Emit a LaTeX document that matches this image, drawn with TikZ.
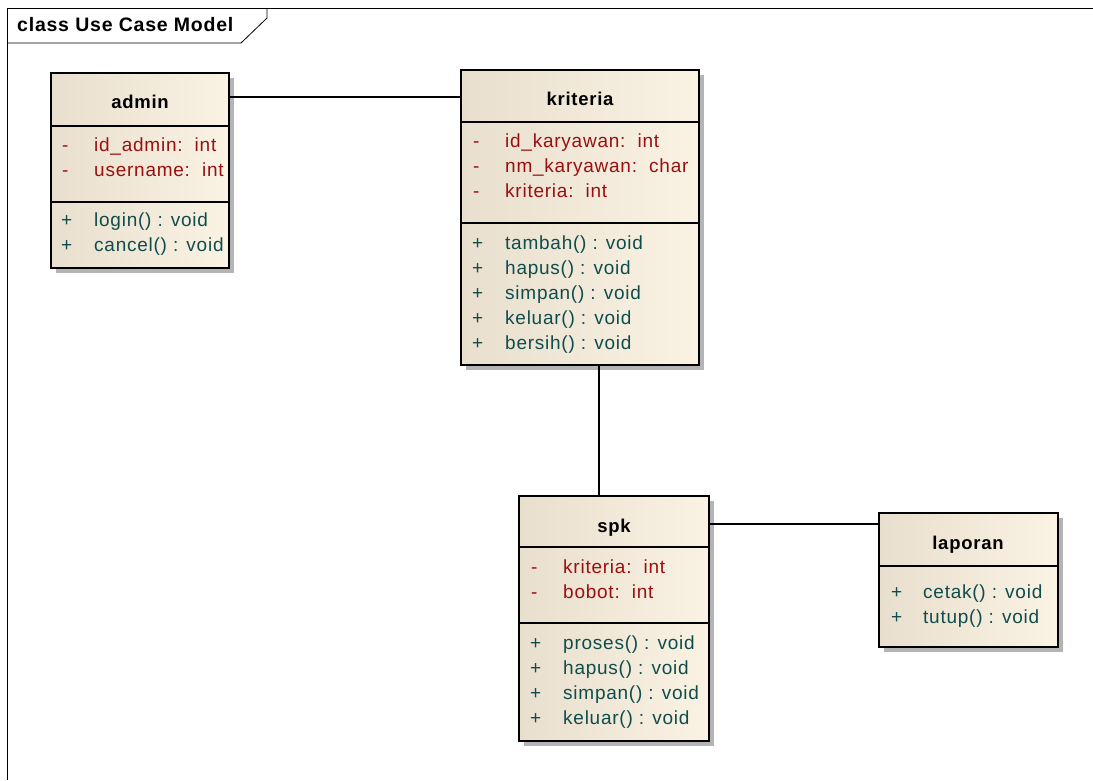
\documentclass[tikz,border=0pt]{standalone}
\usepackage{fontspec}
\newfontfamily\eafont[LetterSpace=4]{Liberation Sans}
\usetikzlibrary{backgrounds}
\definecolor{clsleft}{HTML}{E8DFCE}
\definecolor{clsright}{HTML}{FAF2E3}
\definecolor{shadowgray}{HTML}{B4B4B4}
\definecolor{attrred}{HTML}{9A1010}
\definecolor{operteal}{HTML}{0F4D4D}

\begin{document}
\begin{tikzpicture}[
  x=1pt, y=-1pt,
  every node/.style={font=\eafont\fontsize{19}{22}\selectfont, inner sep=0pt},
  cls/.style={rectangle, draw=black, line width=1.5pt, left color=clsleft, right color=clsright, anchor=north west, outer sep=0pt},
  boxshadow/.style={fill=shadowgray},
  ctitle/.style={anchor=base, font=\eafont\bfseries\fontsize{18.5}{22}\selectfont},
  sgn/.style={anchor=base west},
  attr/.style={anchor=base west, text=attrred},
  oper/.style={anchor=base west, text=operteal},
  sep/.style={line width=1.2pt},
  assoc/.style={line width=1.2pt},
  frame/.style={line width=0.8pt},
]
\useasboundingbox (0,0) rectangle (1093,780);

% frame
\draw[frame] (1093,8) -- (7,8) -- (7,780);
\draw[frame] (7,43) -- (241,43) -- (267,18) -- (267,8);
\node[anchor=base west, font=\eafont\bfseries\fontsize{19.5}{22}\selectfont] (frame-t) at (17,31) {class Use Case Model};

% classes
\node[cls, minimum width=178pt, minimum height=195pt] (admin) at (51,73) {};
\node[cls, minimum width=238pt, minimum height=295pt] (kriteria) at (461,70) {};
\node[cls, minimum width=190pt, minimum height=245pt] (spk) at (519,496) {};
\node[cls, minimum width=179pt, minimum height=134pt] (laporan) at (879,513) {};

\begin{scope}[on background layer]
\foreach \c in {admin,kriteria,spk,laporan}
  \fill[boxshadow] ([shift={(5pt,-5pt)}]\c.north west) rectangle ([shift={(5pt,-5pt)}]\c.south east);
\end{scope}

% compartments
\draw[sep] ([yshift=-53pt]admin.north west) -- ([yshift=-53pt]admin.north east);
\draw[sep] ([yshift=-129pt]admin.north west) -- ([yshift=-129pt]admin.north east);
\draw[sep] ([yshift=-52pt]kriteria.north west) -- ([yshift=-52pt]kriteria.north east);
\draw[sep] ([yshift=-153pt]kriteria.north west) -- ([yshift=-153pt]kriteria.north east);
\draw[sep] ([yshift=-51pt]spk.north west) -- ([yshift=-51pt]spk.north east);
\draw[sep] ([yshift=-127pt]spk.north west) -- ([yshift=-127pt]spk.north east);
\draw[sep] ([yshift=-53pt]laporan.north west) -- ([yshift=-53pt]laporan.north east);

% titles
\node[ctitle] (admin-t) at (140,108) {admin};
\node[ctitle] (kriteria-t) at (580,105) {kriteria};
\node[ctitle] (spk-t) at (614,532) {spk};
\node[ctitle] (laporan-t) at (968,549) {laporan};

% admin
\foreach \txt [count=\i from 0] in {{id\_admin:~~int},{username:~~int}} {
  \node[sgn, text=attrred] (admin-as\i) at (62,151+25*\i) {-};
  \node[attr] (admin-a\i) at (94,151+25*\i) {\txt};
}
\foreach \txt [count=\i from 0] in {{login() : void},{cancel() : void}} {
  \node[sgn, text=operteal] (admin-os\i) at (61,226+25*\i) {+};
  \node[oper] (admin-o\i) at (94,226+25*\i) {\txt};
}

% kriteria
\foreach \txt [count=\i from 0] in {{id\_karyawan:~~int},{nm\_karyawan:~~char},{kriteria:~~int}} {
  \node[sgn, text=attrred] (kriteria-as\i) at (473,147+25*\i) {-};
  \node[attr] (kriteria-a\i) at (505,147+25*\i) {\txt};
}
\foreach \txt [count=\i from 0] in {{tambah() : void},{hapus() : void},{simpan() : void},{keluar() : void},{bersih() : void}} {
  \node[sgn, text=operteal] (kriteria-os\i) at (472,249+25*\i) {+};
  \node[oper] (kriteria-o\i) at (505,249+25*\i) {\txt};
}

% spk
\foreach \txt [count=\i from 0] in {{kriteria:~~int},{bobot:~~int}} {
  \node[sgn, text=attrred] (spk-as\i) at (531,573+25*\i) {-};
  \node[attr] (spk-a\i) at (563,573+25*\i) {\txt};
}
\foreach \txt [count=\i from 0] in {{proses() : void},{hapus() : void},{simpan() : void},{keluar() : void}} {
  \node[sgn, text=operteal] (spk-os\i) at (530,649+25*\i) {+};
  \node[oper] (spk-o\i) at (563,649+25*\i) {\txt};
}

% laporan
\foreach \txt [count=\i from 0] in {{cetak() : void},{tutup() : void}} {
  \node[sgn, text=operteal] (laporan-os\i) at (891,598+25*\i) {+};
  \node[oper] (laporan-o\i) at (923,598+25*\i) {\txt};
}

% associations
\draw[assoc] ([yshift=-24pt]admin.north east) -- ([yshift=-27pt]kriteria.north west);
\draw[assoc] ([xshift=19pt]kriteria.south) -- ([xshift=-15pt]spk.north);
\draw[assoc] ([yshift=-28pt]spk.north east) -- ([yshift=-11pt]laporan.north west);
\end{tikzpicture}
\end{document}
